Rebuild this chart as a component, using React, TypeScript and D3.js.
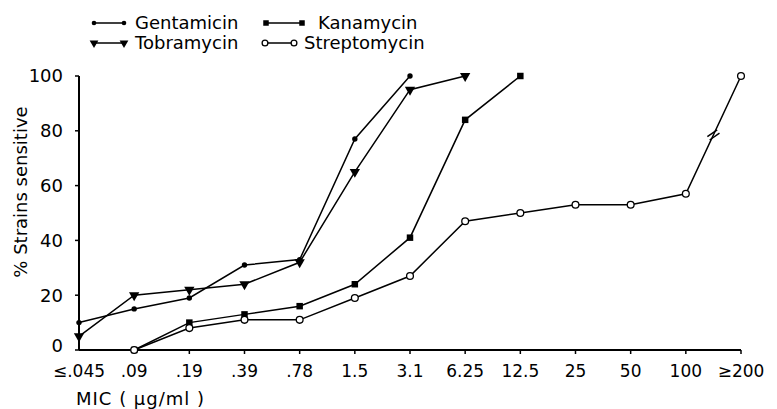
import React from 'react'
import * as d3 from 'd3'

// MIC categories along the x axis
const categories = ['≤.045', '.09', '.19', '.39', '.78', '1.5', '3.1', '6.25', '12.5', '25', '50', '100', '≥200']

// % strains sensitive, null = not plotted
const gentamicin = [10, 15, 19, 31, 33, 77, 100]
const tobramycin = [5, 20, 22, 24, 32, 65, 95, 100]
const kanamycin = [null, 0, 10, 13, 16, 24, 41, 84, 100]
const streptomycin = [null, 0, 8, 11, 11, 19, 27, 47, 50, 53, 53, 57, 100]

const yTicks = [0, 20, 40, 60, 80, 100]

const FONT = "'DejaVu Sans', sans-serif"

type Pt = { c: string; v: number }

const toPoints = (vals: (number | null)[]): Pt[] =>
  vals.map((v, i) => ({ c: categories[i], v })).filter(d => d.v !== null) as Pt[]

function Marker({ kind, x, y, s = 1 }: { kind: string; x: number; y: number; s?: number }) {
  if (kind === 'dot') return <circle cx={x} cy={y} r={2.7 * s} fill="#000" />
  if (kind === 'open') return <circle cx={x} cy={y} r={3.4 * s} fill="#fff" stroke="#000" strokeWidth={1.3} />
  if (kind === 'square') {
    const p = d3.symbol().type(d3.symbolSquare).size(42 * s * s)()
    return <path d={p || ''} transform={`translate(${x},${y})`} fill="#000" />
  }
  const t = d3.symbol().type(d3.symbolTriangle).size(46 * s * s)()
  return <path d={t || ''} transform={`translate(${x},${y}) rotate(180)`} fill="#000" />
}

export default function App() {
  const x = d3.scalePoint<string>().domain(categories).range([79, 741])
  const y = d3.scaleLinear().domain([0, 100]).range([350, 76])

  const line = d3.line<Pt>().x(d => x(d.c) as number).y(d => y(d.v))

  const series = [
    { name: 'Gentamicin', kind: 'dot', pts: toPoints(gentamicin) },
    { name: 'Tobramycin', kind: 'tri', pts: toPoints(tobramycin) },
    { name: 'Kanamycin', kind: 'square', pts: toPoints(kanamycin) },
    { name: 'Streptomycin', kind: 'open', pts: toPoints(streptomycin) },
  ]

  // break mark on the last streptomycin segment
  const sp = toPoints(streptomycin)
  const a = sp[sp.length - 2], b = sp[sp.length - 1]
  const bx = ((x(a.c) as number) + (x(b.c) as number)) / 2
  const by = (y(a.v) + y(b.v)) / 2

  const legend = [
    { name: 'Gentamicin', kind: 'dot', x1: 94, x2: 124, tx: 135, ly: 23, ty: 29 },
    { name: 'Tobramycin', kind: 'tri', x1: 94, x2: 124, tx: 135, ly: 43, ty: 49 },
    { name: 'Kanamycin', kind: 'square', x1: 266, x2: 302, tx: 318, ly: 23, ty: 29 },
    { name: 'Streptomycin', kind: 'open', x1: 265, x2: 294, tx: 304, ly: 43, ty: 49 },
  ]

  return (
    <div style={{ position: 'absolute', left: 0, top: 0 }}>
      <svg width={777} height={409} style={{ display: 'block', background: '#fff' }} fontFamily={FONT}>
        {/* legend */}
        {legend.map(l => (
          <g key={l.name}>
            <line x1={l.x1} x2={l.x2} y1={l.ly} y2={l.ly} stroke="#000" strokeWidth={1.5} />
            <Marker kind={l.kind} x={l.x1} y={l.ly} s={0.85} />
            <Marker kind={l.kind} x={l.x2} y={l.ly} s={0.85} />
            <text x={l.tx} y={l.ty} fontSize={18}>{l.name}</text>
          </g>
        ))}

        {/* axes */}
        <line x1={79} x2={79} y1={y(100)} y2={350} stroke="#000" strokeWidth={2} />
        <line x1={79} x2={741} y1={350} y2={350} stroke="#000" strokeWidth={2} />
        {yTicks.map(t => (
          <g key={t}>
            <line x1={75} x2={79} y1={y(t)} y2={y(t)} stroke="#000" strokeWidth={1.5} />
            <text x={63} y={y(t) - (t === 0 ? 4 : 0)} dy="0.36em" textAnchor="end" fontSize={18}>{t}</text>
          </g>
        ))}
        {categories.map((c, i) => (
          <g key={c}>
            {i > 0 && <line x1={x(c)} x2={x(c)} y1={350} y2={354} stroke="#000" strokeWidth={1.5} />}
            <text x={x(c)} y={377} textAnchor="middle" fontSize={17}>{c}</text>
          </g>
        ))}
        <text transform="translate(27,192) rotate(-90)" textAnchor="middle" fontSize={18}>% Strains sensitive</text>
        <text x={76} y={405} fontSize={18} letterSpacing={1}>MIC ( μg/ml )</text>

        {/* series */}
        {series.map(s => (
          <g key={s.name}>
            <path d={line(s.pts) || ''} fill="none" stroke="#000" strokeWidth={1.5} />
            {s.pts.map(p => (
              <Marker key={p.c} kind={s.kind} x={x(p.c) as number} y={y(p.v)} />
            ))}
          </g>
        ))}

        {/* axis break on the streptomycin line */}
        <g transform={`translate(${bx},${by}) rotate(-35)`} stroke="#000" strokeWidth={1.5}>
          <line x1={-6} x2={6} y1={-2} y2={-2} />
          <line x1={-6} x2={6} y1={2} y2={2} />
        </g>
      </svg>
    </div>
  )
}
